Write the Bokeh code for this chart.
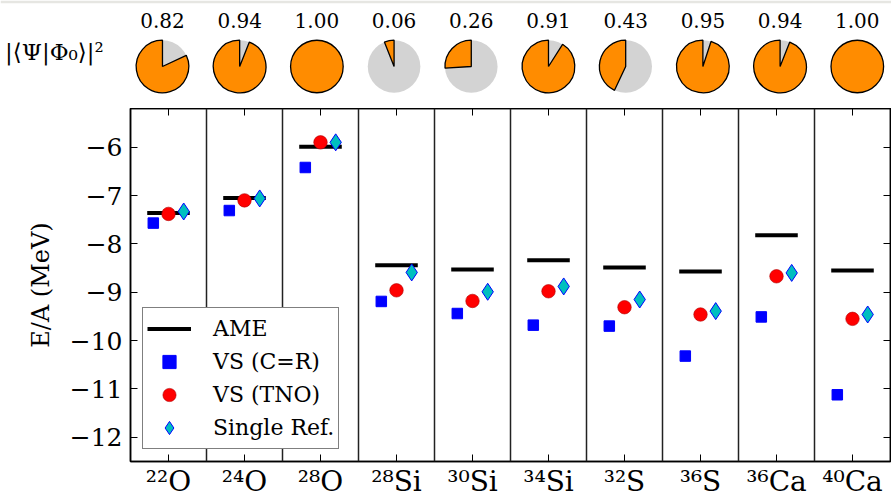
import numpy as np
from bokeh.plotting import figure
from bokeh.layouts import column
from bokeh.models import (Range1d, FixedTicker, LinearAxis, Span, Legend,
                          LegendItem, ColumnDataSource)
from bokeh.core.properties import value
from bokeh.embed import file_html
from bokeh.resources import INLINE

# Nuclei, ground-state overlaps and energies per nucleon (MeV)
nuclei = ["²²O", "²⁴O", "²⁸O", "²⁸Si", "³⁰Si", "³⁴Si", "³²S", "³⁶S", "³⁶Ca", "⁴⁰Ca"]
overlap = [0.82, 0.94, 1.00, 0.06, 0.26, 0.91, 0.43, 0.95, 0.94, 1.00]
ame = [-7.36, -7.05, -5.99, -8.44, -8.53, -8.34, -8.49, -8.57, -7.82, -8.55]
vs_cr = [-7.57, -7.31, -6.42, -9.19, -9.44, -9.68, -9.70, -10.32, -9.51, -11.12]
vs_tno = [-7.38, -7.10, -5.90, -8.96, -9.18, -8.98, -9.31, -9.46, -8.67, -9.55]
single_ref = [-7.33, -7.06, -5.90, -8.59, -8.99, -8.88, -9.15, -9.39, -8.60, -9.46]
y_ticks = [-12, -11, -10, -9, -8, -7, -6]

FONT = "DejaVu Serif"
W = 891
TOP_H = 108
STRIP = 3
MAIN_H = 502 - TOP_H

idx = np.arange(len(nuclei))
frac = np.array(overlap)

# ---------- overlap pies (y measured upward from the bottom of this panel) ----------
top = figure(width=W, height=TOP_H, x_range=Range1d(-2.098, 9.443),
             y_range=Range1d(0, TOP_H - STRIP),
             output_backend="svg", toolbar_location=None,
             x_axis_location=None, y_axis_location=None,
             min_border_left=0, min_border_right=0, min_border_bottom=0,
             min_border_top=STRIP)
top.frame_align = False
top.outline_line_color = None
top.grid.visible = False
top.border_fill_color = "#e6e6e2"
top.background_fill_color = "white"

pie_y = TOP_H - 66
R = 26.3
base = ColumnDataSource(dict(x=idx, y=[pie_y] * len(idx)))
top.circle(x="x", y="y", radius=R, radius_units="screen", source=base,
           fill_color="#d3d3d3", line_color=None)

part = frac < 1
wsrc = ColumnDataSource(dict(x=idx[part], y=[pie_y] * int(part.sum()),
                             start=[np.pi / 2] * int(part.sum()),
                             end=np.pi / 2 + 2 * np.pi * frac[part]))
top.wedge(x="x", y="y", radius=R, radius_units="screen", start_angle="start",
          end_angle="end", direction="anticlock", source=wsrc,
          fill_color="#ff8c00", line_color="black", line_width=1.3)
full = ~part
fsrc = ColumnDataSource(dict(x=idx[full], y=[pie_y] * int(full.sum())))
top.circle(x="x", y="y", radius=R, radius_units="screen", source=fsrc,
           fill_color="#ff8c00", line_color="black", line_width=1.3)

lsrc = ColumnDataSource(dict(x=idx, y=[TOP_H - 19.5] * len(idx),
                             t=[f"{v:.2f}" for v in overlap]))
top.text(x="x", y="y", text="t", source=lsrc, text_font=value(FONT),
         text_font_size="20px", text_align="center", text_baseline="middle",
         text_color="black")
top.text(x=[-1.40], y=[TOP_H - 51], text=["|⟨Ψ|Φ₀⟩|²"], text_font=value(FONT),
         text_font_size="23px", text_align="center", text_baseline="middle",
         text_color="black")

# ---------- energies per nucleon ----------
p = figure(width=W, height=MAIN_H, x_range=Range1d(-0.5, len(nuclei) - 0.5),
           y_range=Range1d(-12.5, -5.2), output_backend="svg", toolbar_location=None,
           min_border_left=130, min_border_right=1, min_border_top=0,
           min_border_bottom=41)
p.frame_align = False
p.grid.visible = False
p.outline_line_color = "black"
p.outline_line_width = 1.5
p.background_fill_color = "white"

for xs in idx[:-1] + 0.5:
    p.add_layout(Span(location=xs, dimension="height", line_color="#222222",
                      line_width=1.5))

ame_r = p.segment(x0=idx - 0.28, y0=ame, x1=idx + 0.28, y1=ame,
                  line_color="black", line_width=4)
cr_r = p.scatter(idx - 0.2, vs_cr, marker="square", size=10.5,
                 fill_color="#0000ff", line_color="#0000ff")
tno_r = p.scatter(idx, vs_tno, marker="circle", size=13.5,
                  fill_color="#ff0000", line_color="#b00000", line_width=0.6)
sr_r = p.scatter(idx + 0.2, single_ref, marker="diamond", size=17,
                 fill_color="#00bfbf", line_color="#0000ff", line_width=1)

xt = FixedTicker(ticks=list(idx))
yt = FixedTicker(ticks=y_ticks)

xa = p.xaxis[0]
xa.ticker = xt
xa.major_label_overrides = {int(i): n for i, n in zip(idx, nuclei)}
xa.major_label_text_font = FONT
xa.major_label_text_font_size = "28px"
xa.major_label_text_color = "black"
xa.major_label_standoff = 3

ya = p.yaxis[0]
ya.ticker = yt
ya.major_label_overrides = {t: f"−{abs(t)}" for t in y_ticks}
ya.major_label_text_font = FONT
ya.major_label_text_font_size = "25px"
ya.major_label_text_color = "black"
ya.major_label_standoff = 8
ya.axis_label = "E/A (MeV)"
ya.axis_label_text_font = FONT
ya.axis_label_text_font_size = "24px"
ya.axis_label_text_font_style = "normal"
ya.axis_label_text_color = "black"
ya.axis_label_standoff = 12

for ax in (xa, ya):
    ax.axis_line_color = "black"
    ax.axis_line_width = 1.5
    ax.major_tick_in = 7
    ax.major_tick_out = 0
    ax.major_tick_line_color = "black"
    ax.minor_tick_line_color = None

# tick marks on the opposite sides, without labels
for loc, tk in (("above", xt), ("right", yt)):
    ax = LinearAxis(ticker=tk, major_label_text_font_size="1px",
                    major_label_text_color=None,
                    major_label_standoff=0, major_tick_in=7, major_tick_out=0,
                    minor_tick_line_color=None, axis_line_color="black",
                    axis_line_width=1.5, major_tick_line_color="black")
    p.add_layout(ax, loc)

legend = Legend(items=[LegendItem(label="AME", renderers=[ame_r]),
                       LegendItem(label="VS (C=R)", renderers=[cr_r]),
                       LegendItem(label="VS (TNO)", renderers=[tno_r]),
                       LegendItem(label="Single Ref.", renderers=[sr_r])],
                location=(12, 12), label_text_font=FONT,
                label_text_font_size="22px", label_text_color="black",
                glyph_width=44, glyph_height=33, label_height=33, spacing=0,
                padding=4, margin=0, label_standoff=22,
                border_line_color="black", border_line_width=1.2,
                background_fill_alpha=1)
p.add_layout(legend)

layout = column(top, p, spacing=0)
open("out.html", "w").write(file_html(layout, INLINE))
